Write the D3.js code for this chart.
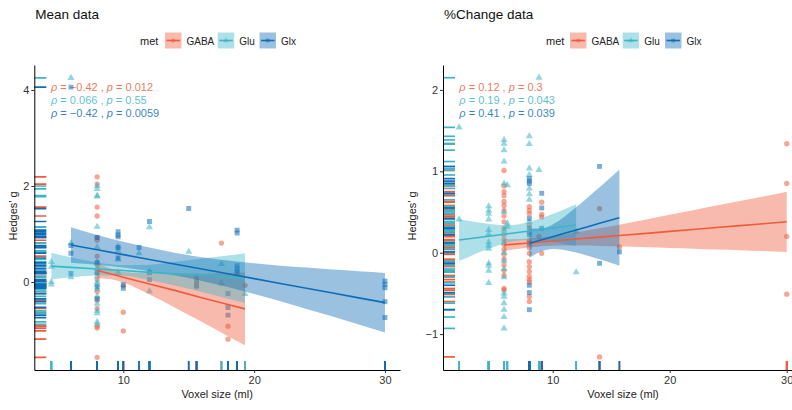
<!DOCTYPE html>
<html><head><meta charset="utf-8">
<script src="https://cdn.jsdelivr.net/npm/d3@7"></script>
<style>body{margin:0;background:#fff} text{font-family:"Liberation Sans",Arial,Helvetica,sans-serif}</style>
</head><body><svg id="chart" width="792" height="410" xmlns="http://www.w3.org/2000/svg"></svg>
<script>
// ---------- data ----------
const metNames = ["GABA", "Glu", "Glx"];
const metColors = ["#EF5B3B", "#3CB5C7", "#0E6DB6"];
const xTicks = [10, 20, 30];
const meanYTicks = [0, 2, 4];
const changeYTicks = [-1, 0, 1, 2];

// Mean data: [voxel size, [Hedges' g values]]
const meanGABA = [
  [8, [2.19, 2.04, 1.56, 1.375, 0.93, 0.87, 0.54, 0.35, 0.18, 0.05, -0.2, -0.38, -0.55, -0.92, -0.96, -1.57]],
  [10, [-0.08, -0.63, -1.02]],
  [15.6, [0.12, -0.02, -0.1]],
  [17.5, [0.81]],
  [18, [-0.92, -1.19]],
  [19.3, [-0.07]]
];
const meanGlu = [
  [4.5, [0.42, 0.32, 0.0, -0.05]],
  [6, [4.25, 0.81, 0.10]],
  [8, [2.0, 1.94, 1.80, 1.78, 1.15, 0.72, 0.42, 0.28, 0.12, 0.0, -0.05, -0.15, -0.3, -0.45, -0.6, -0.65, -0.83, -0.88]],
  [9.6, [0.74, 0.65, 0.47, 0.19]],
  [11.2, [0.6]],
  [12, [1.14, 0.22, -0.19]],
  [15, [0.63]],
  [17.5, [0.375, -0.03]],
  [19.3, [-0.25]]
];
const meanGlx = [
  [6, [4.06, 0.76, 0.60, 0.18]],
  [8, [0.93, 0.4, 0.2, -0.1, -0.35]],
  [9.6, [1.05, 0.98, 0.94, 0.72, 0.5]],
  [10, [-0.13, -0.05]],
  [11.2, [0.72]],
  [12, [1.26, 0.19, 0.05]],
  [15, [1.53]],
  [15.6, [0.02, -0.08]],
  [18, [-0.24, -0.53, -0.69]],
  [18.7, [1.08, 1.02, 0.34, 0.28, 0.22, 0.18]],
  [30, [0.02, -0.05, -0.12, -0.41, -0.74]]
];

// %Change data
const changeGABA = [
  [5.84, [1.01, 0.82, 0.75, 0.70, 0.63, 0.58, 0.52, 0.45, 0.38, 0.30, 0.22, 0.16, 0.10, 0.04, -0.02, -0.08, -0.15, -0.22, -0.28, -0.44, -0.46]],
  [8, [0.565, 0.52, 0.48, 0.34, 0.25, 0.15, 0.06, -0.01, -0.11, -0.17, -0.23, -0.29, -0.33, -0.36, -0.54, -0.6]],
  [8.83, [0.2]],
  [9.06, [0.62, 0.47, 0.44, -0.01]],
  [14, [0.54, -1.28]],
  [15.7, [0.07]],
  [30, [1.34, 0.85, 0.2, -0.51]]
];
const changeGlu = [
  [2, [1.54, 0.41]],
  [4.53, [0.57, 0.52, 0.48, 0.41, 0.28, 0.23, 0.13, 0.09, 0.05, -0.13, -0.16, -0.22, -0.37]],
  [5.84, [1.385, 1.34, 1.26, 1.12, 0.85, 0.5, 0.27, 0.12, 0.0, -0.1, -0.2, -0.3, -0.5, -0.54, -0.62, -0.70, -0.79, -0.93]],
  [6.12, [0.83, 0.36, 0.32]],
  [8, [1.43, 1.335, 1.035, 0.955, 0.79, 0.72, 0.65, 0.38, 0.1]],
  [8.83, [2.15, 1.016]],
  [12, [0.26, -0.24]]
];
const changeGlx = [
  [8, [0.91, 0.88, 0.85, 0.42, 0.3, 0.22, 0.12, -0.40, -0.49, -0.70]],
  [9.06, [0.73, 0.55, 0.3]],
  [14, [1.06, -0.13]],
  [15.7, [0.01]]
];

// regression fits: [x, fit, lower CI, upper CI]
const meanFitGABA = [[8,0.24,0.085,0.395],[9,0.17,0.06,0.28],[10,0.10,-0.01,0.21],[12,-0.04,-0.26,0.18],[14,-0.18,-0.54,0.18],[16,-0.33,-0.83,0.17],[18,-0.47,-1.13,0.19],[19.3,-0.56,-1.32,0.20]];
const meanFitGlu = [[4.5,0.33,0.05,0.61],[6,0.305,0.097,0.513],[8,0.27,0.134,0.406],[10,0.24,0.129,0.351],[12,0.20,0.04,0.36],[14,0.17,-0.08,0.42],[16,0.14,-0.21,0.49],[18,0.10,-0.35,0.55],[19.3,0.08,-0.437,0.597]];
const meanFitGlx = [[6,0.77,0.40,1.14],[8,0.67,0.36,0.98],[10,0.57,0.304,0.836],[12,0.47,0.223,0.717],[14,0.37,0.134,0.606],[16,0.27,0.023,0.517],[18,0.17,-0.106,0.446],[20,0.07,-0.25,0.39],[22,-0.03,-0.40,0.34],[24,-0.13,-0.56,0.30],[26,-0.23,-0.72,0.26],[28,-0.33,-0.885,0.225],[30,-0.43,-1.05,0.19]];
const changeFitGABA = [[5.84,0.095,0.024,0.166],[8,0.120,0.065,0.175],[10,0.144,0.084,0.204],[12,0.168,0.087,0.249],[14,0.191,0.083,0.299],[16,0.215,0.076,0.354],[18,0.238,0.067,0.409],[20,0.262,0.059,0.465],[22,0.286,0.05,0.522],[24,0.309,0.039,0.579],[26,0.333,0.03,0.636],[28,0.356,0.02,0.692],[30,0.380,0.01,0.75]];
const changeFitGlu = [[2,0.156,-0.099,0.411],[3,0.174,-0.039,0.387],[4,0.193,0.02,0.366],[5,0.211,0.074,0.348],[6,0.23,0.12,0.34],[7,0.248,0.148,0.348],[8,0.266,0.156,0.376],[9,0.285,0.148,0.422],[10,0.303,0.13,0.476],[11,0.321,0.108,0.534],[12,0.34,0.085,0.595]];
const changeFitGlx = [[8,0.115,-0.065,0.295],[9,0.156,0.016,0.296],[10,0.197,0.046,0.348],[11,0.238,0.033,0.443],[12,0.279,0.001,0.557],[13,0.32,-0.038,0.678],[14,0.361,-0.081,0.803],[15,0.402,-0.126,0.93],[15.7,0.43,-0.159,1.019]];

const meanRho = ["\u22120.42", "0.066", "\u22120.42"];
const meanP = ["0.012", "0.55", "0.0059"];
const changeRho = ["0.12", "0.19", "0.41"];
const changeP = ["0.3", "0.043", "0.039"];

// ---------- drawing ----------
const svg = d3.select("#chart");
svg.append("rect").attr("width", 792).attr("height", 410).attr("fill", "#fff");
const symTypes = [d3.symbolCircle, d3.symbolTriangle, d3.symbolSquare];
const symSizes = [22, 22, 24];

const panels = [
  {id: "mean", title: "Mean data", left: 34.3, right: 400, xDomain: [3.196, 31.15], yDomain: [-1.833, 4.52],
   ticksY: meanYTicks, series: [meanGABA, meanGlu, meanGlx], fits: [meanFitGABA, meanFitGlu, meanFitGlx],
   rho: meanRho, p: meanP, annX: 51, legend: {met: 140, boxes: [165, 217.7, 259.5]}, ylabX: 17},
  {id: "change", title: "%Change data", left: 443, right: 803, xDomain: [0.624, 31.39], yDomain: [-1.441, 2.306],
   ticksY: changeYTicks, series: [changeGABA, changeGlu, changeGlx], fits: [changeFitGABA, changeFitGlu, changeFitGlx],
   rho: changeRho, p: changeP, annX: 459.3, legend: {met: 546, boxes: [570, 622.7, 665]}, ylabX: 416}
];
const panelTop = 65, panelBottom = 370;
const tickFmt = d3.format("d");

panels.forEach(P => {
  const x = d3.scaleLinear().domain(P.xDomain).range([P.left, P.right]);
  const y = d3.scaleLinear().domain(P.yDomain).range([panelBottom, panelTop]);
  const g = svg.append("g");
  svg.append("clipPath").attr("id", "clip-" + P.id)
    .append("rect").attr("x", P.left).attr("y", panelTop).attr("width", P.right - P.left).attr("height", panelBottom - panelTop);
  const plot = g.append("g").attr("clip-path", `url(#clip-${P.id})`);

  // annotations
  const ann = plot.append("g");
  [0, 1, 2].forEach(i => {
    const t = ann.append("text").attr("x", P.annX).attr("y", 90.7 + i * 13)
      .attr("font-size", 11).attr("fill", metColors[i]).attr("fill-opacity", 0.85);
    t.append("tspan").attr("font-style", "italic").text("\u03C1");
    t.append("tspan").text(" = " + P.rho[i] + " , ");
    t.append("tspan").attr("font-style", "italic").text("p");
    t.append("tspan").text(" = " + P.p[i]);
  });

  // points
  P.series.forEach((s, i) => {
    const pts = s.flatMap(([xv, ys]) => ys.map(v => [xv, v]));
    plot.append("g").selectAll("path").data(pts).join("path")
      .attr("d", d3.symbol().type(symTypes[i]).size(symSizes[i]))
      .attr("transform", d => `translate(${x(d[0])},${y(d[1])})`)
      .attr("fill", metColors[i]).attr("fill-opacity", 0.55);
  });

  // confidence bands + lines
  P.fits.forEach((f, i) => {
    plot.append("path").datum(f)
      .attr("d", d3.area().x(d => x(d[0])).y0(d => y(d[2])).y1(d => y(d[3])).curve(d3.curveMonotoneX))
      .attr("fill", metColors[i]).attr("fill-opacity", 0.42);
  });
  P.fits.forEach((f, i) => {
    plot.append("path").datum(f)
      .attr("d", d3.line().x(d => x(d[0])).y(d => y(d[1])))
      .attr("fill", "none").attr("stroke", metColors[i]).attr("stroke-width", 1.6);
  });

  // rugs
  P.series.forEach((s, i) => {
    const pts = s.flatMap(([xv, ys]) => ys.map(v => [xv, v]));
    const rg = plot.append("g").attr("stroke", metColors[i]).attr("stroke-width", 1.7);
    rg.selectAll("line.ry").data(pts).join("line").attr("class", "ry")
      .attr("x1", P.left).attr("x2", P.left + 12).attr("y1", d => y(d[1])).attr("y2", d => y(d[1]));
    rg.selectAll("line.rx").data(pts).join("line").attr("class", "rx")
      .attr("y1", panelBottom).attr("y2", panelBottom - 9).attr("x1", d => x(d[0])).attr("x2", d => x(d[0]));
  });

  // axes
  const ax = g.append("g").attr("transform", `translate(0,${panelBottom})`)
    .call(d3.axisBottom(x).tickValues(xTicks).tickFormat(tickFmt).tickSize(3).tickSizeOuter(0).tickPadding(3));
  const ay = g.append("g").attr("transform", `translate(${P.left},0)`)
    .call(d3.axisLeft(y).tickValues(P.ticksY).tickFormat(tickFmt).tickSize(3).tickSizeOuter(0).tickPadding(2));
  [ax, ay].forEach(a => {
    a.select(".domain").attr("stroke", "#000").attr("stroke-width", 1);
    a.selectAll(".tick line").attr("stroke", "#333");
    a.selectAll(".tick text").attr("font-size", 11).attr("fill", "#333")
      .attr("font-family", "'Liberation Sans',Arial,sans-serif");
  });

  // axis titles
  g.append("text").attr("x", (P.left + Math.min(P.right, 803)) / 2).attr("y", 398)
    .attr("text-anchor", "middle").attr("font-size", 11).attr("fill", "#222").text("Voxel size (ml)");
  g.append("text").attr("transform", `translate(${P.ylabX},216) rotate(-90)`)
    .attr("text-anchor", "middle").attr("font-size", 11).attr("fill", "#222").text("Hedges\u2019 g");

  // title
  g.append("text").attr("x", P.left + 1).attr("y", 19).attr("font-size", 13.5).attr("fill", "#111").text(P.title);

  // legend
  g.append("text").attr("x", P.legend.met).attr("y", 44.5).attr("font-size", 11).attr("fill", "#222").text("met");
  P.legend.boxes.forEach((bx, i) => {
    const lg = g.append("g").attr("transform", `translate(${bx},32.5)`);
    lg.append("rect").attr("width", 16.5).attr("height", 16).attr("fill", metColors[i]).attr("fill-opacity", 0.42);
    lg.append("line").attr("x1", 1.5).attr("x2", 15).attr("y1", 8).attr("y2", 8)
      .attr("stroke", metColors[i]).attr("stroke-width", 1.6);
    lg.append("path").attr("d", d3.symbol().type(symTypes[i]).size(14)).attr("transform", "translate(8.25,8)")
      .attr("fill", metColors[i]).attr("fill-opacity", 0.55);
    lg.append("text").attr("x", 21.5).attr("y", 12).attr("font-size", 10).attr("fill", "#222").text(metNames[i]);
  });
});
</script></body></html>
